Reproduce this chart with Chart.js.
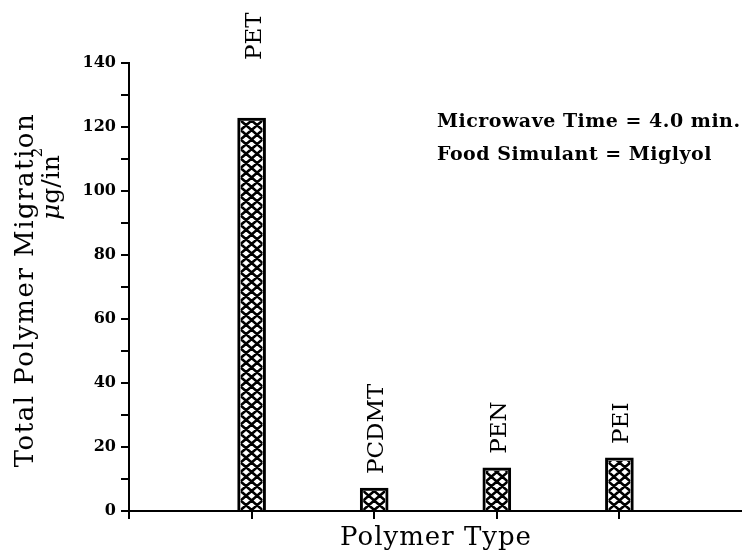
<!DOCTYPE html>
<html>
<head>
<meta charset="utf-8">
<script src="https://cdn.jsdelivr.net/npm/chart.js@4.4.1/dist/chart.umd.min.js"></script>
<style>
  html, body { margin: 0; padding: 0; background: #fff; }
</style>
</head>
<body>
<canvas id="myChart" width="742" height="552"></canvas>
<script>
const polymers = ["PET", "PCDMT", "PEN", "PEI"];
const slots = [1, 2, 3, 4];
const migration = [122.8, 7.2, 13.5, 16.6];
const xTicks = [0, 1, 2, 3, 4];
const notes = ["Microwave Time = 4.0 min.", "Food Simulant = Miglyol"];

const serif = "'DejaVu Serif', serif";

// cross hatch inside each bar, drawn over the white fill
const hatch = {
  id: "hatch",
  afterDatasetsDraw(chart) {
    const ctx = chart.ctx;
    chart.getDatasetMeta(0).data.forEach(bar => {
      const { x, y, base, width } = bar.getProps(["x", "y", "base", "width"], true);
      const b = 3;
      const l = x - width / 2 + b, r = x + width / 2 - b, t = y + b;
      ctx.save();
      ctx.beginPath();
      ctx.rect(l, t, r - l, base - t);
      ctx.clip();
      const cw = (r - l) / 2, ch = 9.5;
      ctx.strokeStyle = "#000";
      ctx.lineWidth = 2.6;
      ctx.beginPath();
      for (let yy = base; yy > t - ch; yy -= ch) {
        for (let xx = l; xx < r; xx += cw) {
          ctx.moveTo(xx, yy);
          ctx.lineTo(xx + cw, yy - ch);
          ctx.moveTo(xx, yy - ch);
          ctx.lineTo(xx + cw, yy);
        }
      }
      ctx.stroke();
      ctx.restore();
    });
  }
};

// rotated polymer names, titles and the note
const texts = {
  id: "texts",
  afterDraw(chart) {
    const ctx = chart.ctx;
    const area = chart.chartArea;
    ctx.save();
    ctx.fillStyle = "#000";

    ctx.font = "23px " + serif;
    ctx.textBaseline = "middle";
    ctx.textAlign = "left";
    chart.getDatasetMeta(0).data.forEach((bar, i) => {
      const w = ctx.measureText(polymers[i]).width;
      let bottom = bar.y - 14;
      if (bottom - w < area.top) bottom = area.top - 3;
      ctx.save();
      ctx.translate(bar.x + 3, bottom);
      ctx.rotate(-Math.PI / 2);
      ctx.fillText(polymers[i], 0, 0);
      ctx.restore();
    });

    // y title
    ctx.save();
    ctx.translate(33, 290);
    ctx.rotate(-Math.PI / 2);
    ctx.textAlign = "center";
    ctx.textBaseline = "alphabetic";
    ctx.font = "26px " + serif;
    ctx.letterSpacing = "1.5px";
    ctx.fillText("Total Polymer Migration", 0, 0);
    ctx.restore();

    ctx.save();
    ctx.translate(59, 220);
    ctx.rotate(-Math.PI / 2);
    ctx.textAlign = "left";
    ctx.textBaseline = "alphabetic";
    ctx.font = "italic 25px " + serif;
    ctx.fillText("\u03bc", 0, 0);
    let px = ctx.measureText("\u03bc").width;
    ctx.font = "25px " + serif;
    ctx.fillText("g/in", px, 0);
    px += ctx.measureText("g/in").width;
    ctx.font = "15px " + serif;
    ctx.fillText("2", px - 2, -17);
    ctx.restore();

    // x title
    ctx.save();
    ctx.textAlign = "center";
    ctx.textBaseline = "alphabetic";
    ctx.font = "26px " + serif;
    ctx.letterSpacing = "1px";
    ctx.fillText("Polymer Type", 436, 545);
    ctx.restore();

    // notes
    ctx.textAlign = "left";
    ctx.textBaseline = "alphabetic";
    ctx.font = "bold 19px " + serif;
    ctx.letterSpacing = "0.5px";
    notes.forEach((n, i) => ctx.fillText(n, 437, 127 + i * 33));
    ctx.restore();
  }
};

const ctx = document.querySelector("#myChart");

let opts = {
  type: "bar",
  data: {
    datasets: [
      {
        data: slots.map((s, i) => ({ x: s, y: migration[i] })),
        backgroundColor: "#fff",
        borderColor: "#000",
        borderWidth: 3,
        borderSkipped: "bottom",
        barThickness: 28,
      },
    ],
  },
  options: {
    responsive: false,
    devicePixelRatio: 1,
    animation: false,
    layout: {
      padding: { top: 63, right: 0, left: 0, bottom: 0 },
    },
    scales: {
      x: {
        type: "linear",
        min: 0,
        max: 5,
        offset: false,
        afterBuildTicks: scale => {
          scale.ticks = xTicks.map(v => ({ value: v }));
        },
        afterFit: scale => {
          scale.height = 41;
        },
        ticks: { display: false },
        grid: {
          offset: false,
          drawOnChartArea: false,
          drawTicks: true,
          tickLength: 8,
          color: "#000",
          lineWidth: 2,
        },
        border: { display: true, color: "#000", width: 2 },
      },
      y: {
        min: 0,
        max: 140,
        afterFit: scale => {
          scale.width = 129;
        },
        ticks: {
          stepSize: 10,
          color: "#000",
          padding: 5,
          font: { family: serif, size: 16, weight: "bold" },
          callback: v => (v % 20 === 0 ? v : ""),
        },
        grid: {
          drawOnChartArea: false,
          drawTicks: true,
          tickLength: 8,
          color: "#000",
          lineWidth: 2,
        },
        border: { display: true, color: "#000", width: 2 },
      },
    },
    plugins: {
      legend: { display: false },
      tooltip: { enabled: false },
    },
  },
  plugins: [hatch, texts],
};

const myChart = new Chart(ctx, opts);
</script>
</body>
</html>
